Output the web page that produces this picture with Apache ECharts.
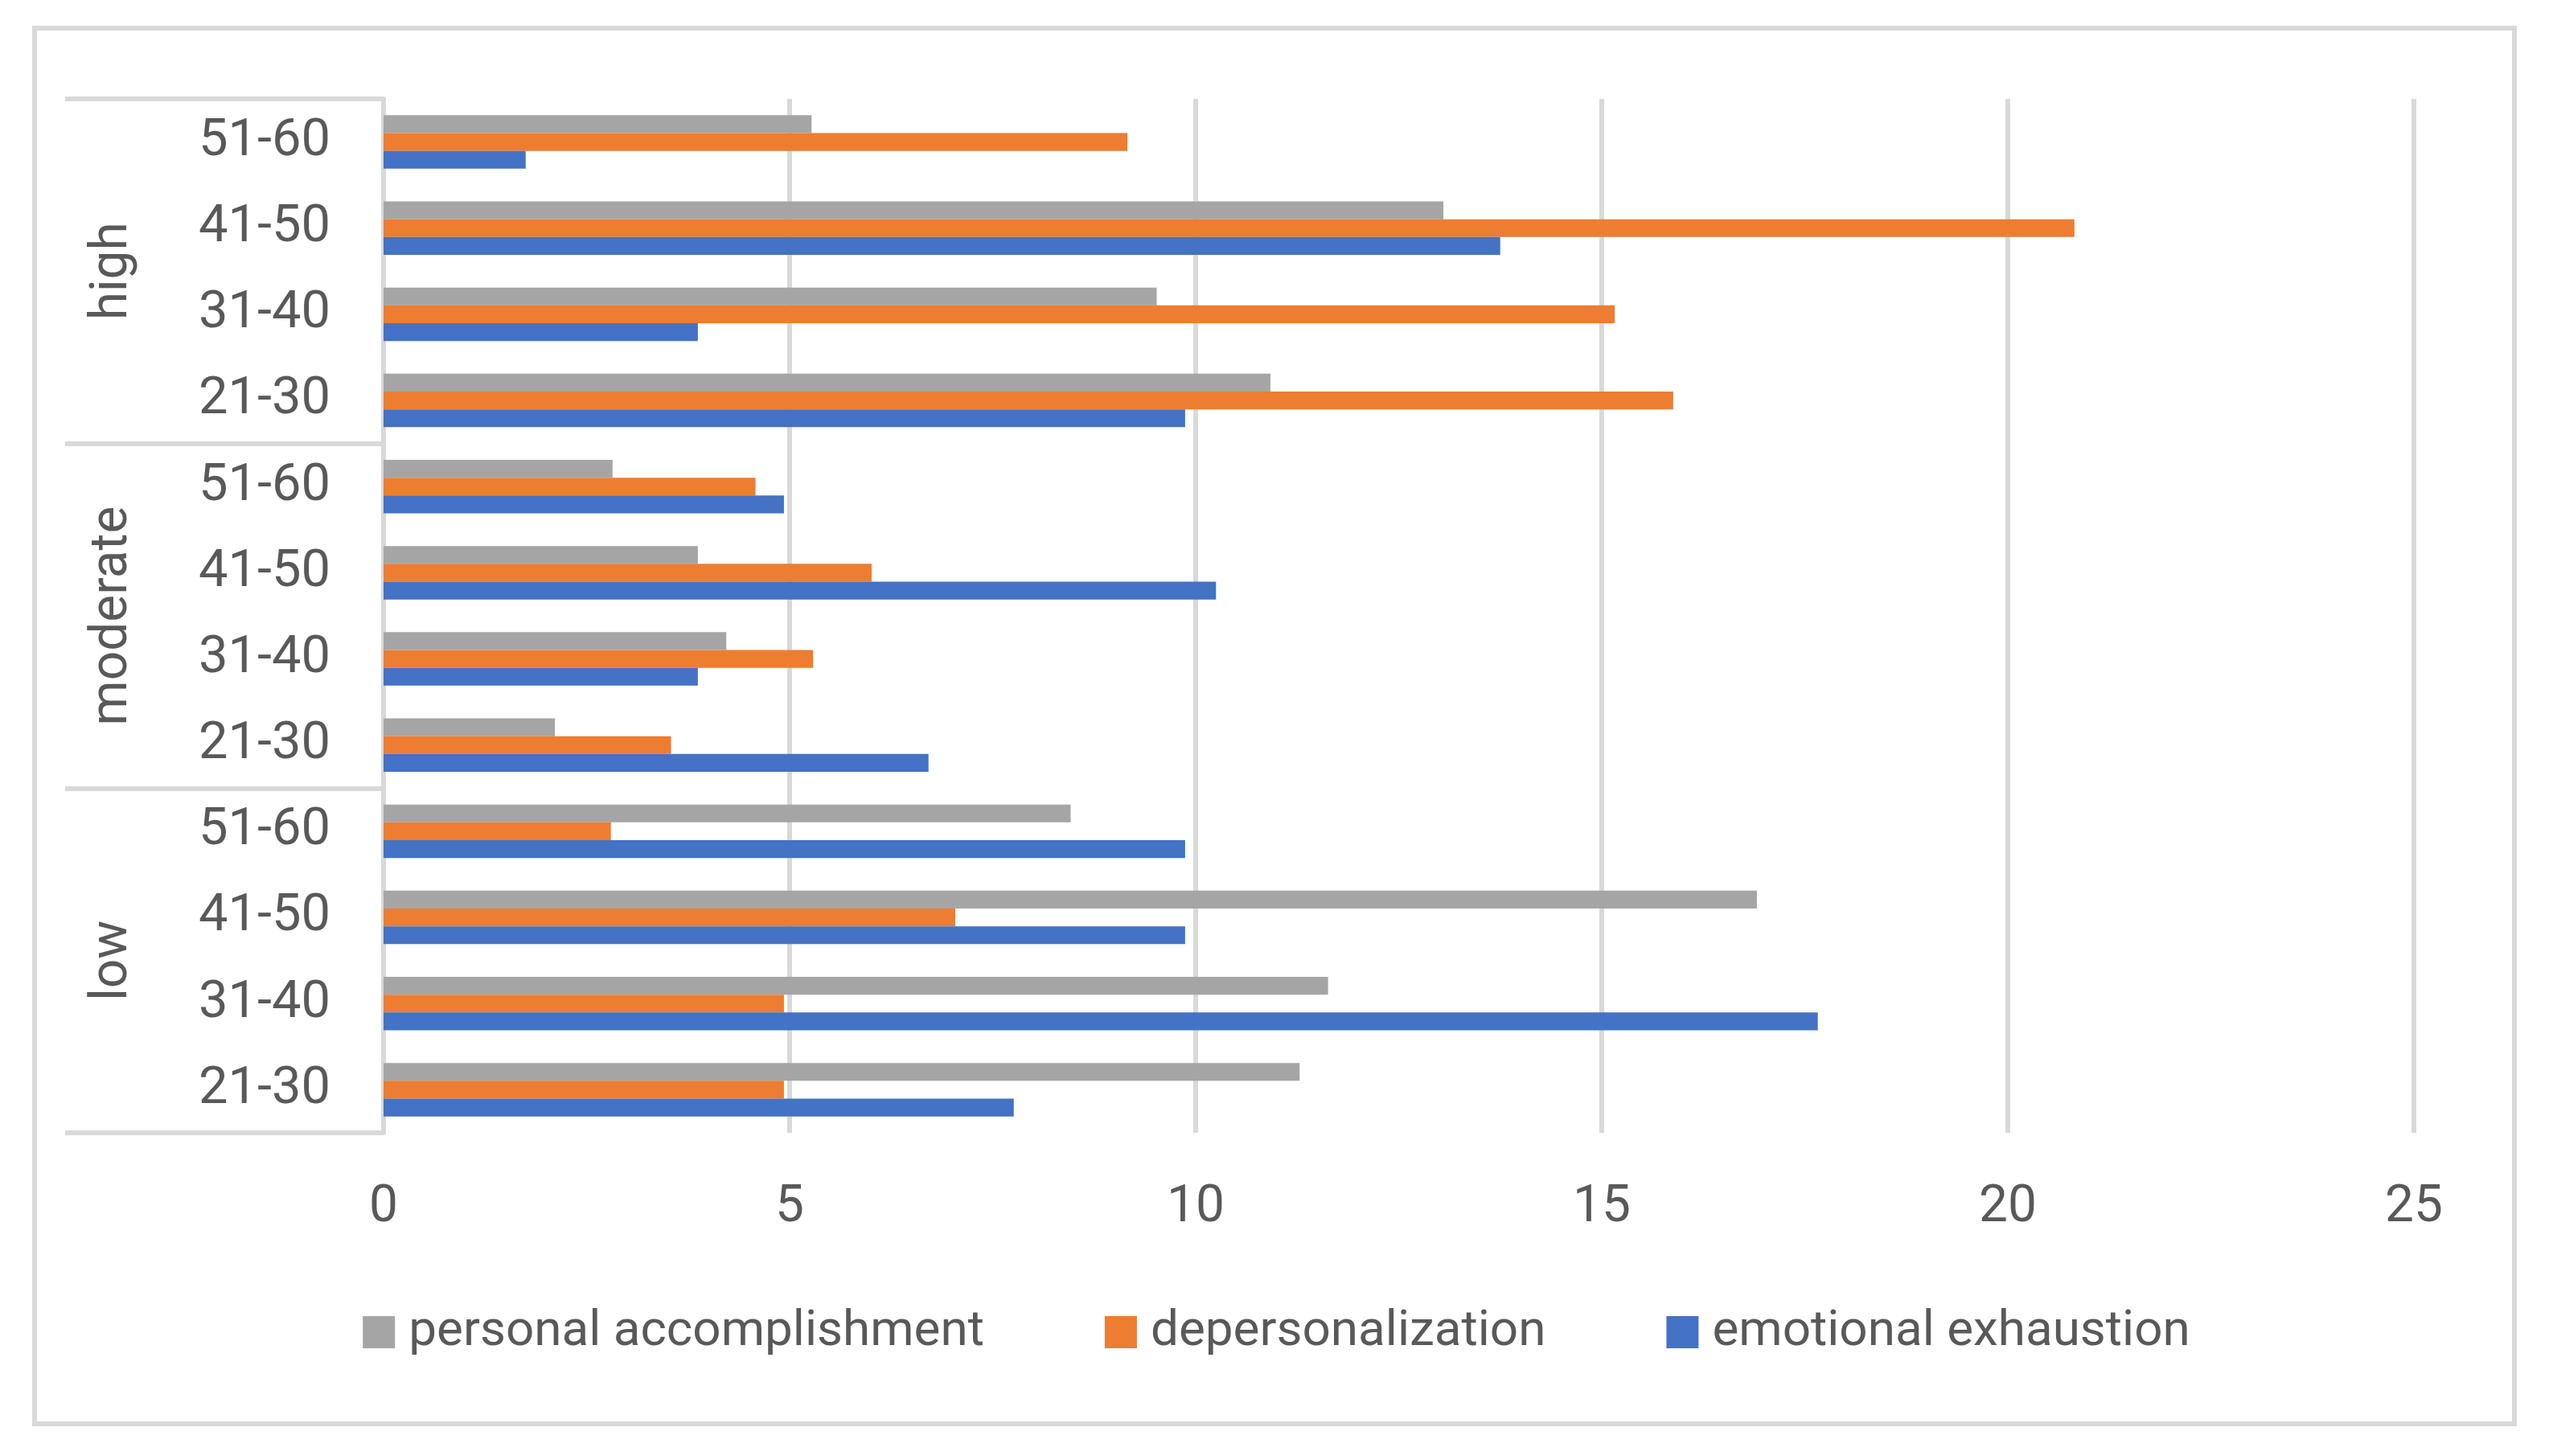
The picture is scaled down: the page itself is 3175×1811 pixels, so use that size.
<!DOCTYPE html>
<html>
<head>
<meta charset="utf-8">
<script src="https://cdn.jsdelivr.net/npm/echarts@6/dist/echarts.min.js"></script>
<style>
html,body{margin:0;padding:0;background:#fff;}
#chart{width:3175px;height:1811px;}
</style>
</head>
<body>
<div id="chart"></div>
<script>
// categories listed bottom-to-top
const ageGroups = ['21-30','31-40','41-50','51-60','21-30','31-40','41-50','51-60','21-30','31-40','41-50','51-60'];
const levels = ['low','moderate','high'];
const seriesNames = ['personal accomplishment','depersonalization','emotional exhaustion'];
const personalAccomplishment = [11.28, 11.63, 16.91, 8.46, 2.11, 4.22, 3.87, 2.82, 10.92, 9.52, 13.05, 5.27];
const depersonalization      = [4.93, 4.93, 7.04, 2.80, 3.54, 5.29, 6.01, 4.58, 15.88, 15.16, 20.82, 9.16];
const emotionalExhaustion    = [7.76, 17.66, 9.87, 9.87, 6.71, 3.87, 10.25, 4.93, 9.87, 3.87, 13.75, 1.75];
const xTicks = [0, 5, 10, 15, 20, 25];

const FONT = 'Roboto';
const TXT = '#595959';
const GRID = '#d9d9d9';
const colors = ['#A5A5A5', '#ED7D31', '#4472C4'];
const values = [personalAccomplishment, depersonalization, emotionalExhaustion];

const chart = echarts.init(document.getElementById('chart'), null, {renderer: 'canvas'});
chart.setOption({
  animation: false,
  backgroundColor: '#fff',
  color: colors,
  graphic: [{
    type: 'rect',
    shape: {x: 43, y: 35, width: 3084, height: 1736},
    style: {fill: 'none', stroke: GRID, lineWidth: 6},
    z: -1
  }],
  grid: {left: 477, right: 173, top: 123, bottom: 402, containLabel: false},
  legend: {
    data: seriesNames,
    bottom: 118,
    left: 'center',
    icon: 'rect',
    itemWidth: 40,
    itemHeight: 40,
    itemGap: 150,
    textStyle: {fontFamily: FONT, fontSize: 62, color: TXT, padding: [0, 0, 0, 12]}
  },
  xAxis: {
    type: 'value',
    min: 0, max: 25, interval: 5,
    axisLine: {show: false},
    axisTick: {show: false},
    splitLine: {show: true, lineStyle: {color: GRID, width: 6}},
    axisLabel: {
      fontFamily: FONT, fontSize: 64, color: TXT, margin: 62,
      formatter: v => xTicks.includes(v) ? String(v) : ''
    }
  },
  yAxis: [{
    type: 'category',
    data: ageGroups,
    position: 'left',
    axisLine: {show: true, lineStyle: {color: GRID, width: 6}},
    axisTick: {show: false},
    axisLabel: {fontFamily: FONT, fontSize: 65, color: TXT, margin: 66, padding: [6, 0, 0, 0]}
  }, {
    type: 'category',
    data: levels,
    position: 'left',
    offset: 0,
    axisLine: {show: false},
    axisTick: {show: true, length: 396, interval: 0, lineStyle: {color: GRID, width: 6}},
    axisLabel: {fontFamily: FONT, fontSize: 64, color: TXT, rotate: 90, margin: 304, interval: 0},
    splitLine: {show: false}
  }],
  series: seriesNames.map((name, i) => ({
    name: name,
    type: 'bar',
    yAxisIndex: 0,
    data: values[i],
    barGap: '0%',
    barCategoryGap: '38%',
    itemStyle: {color: colors[i]}
  }))
});
</script>
</body>
</html>
